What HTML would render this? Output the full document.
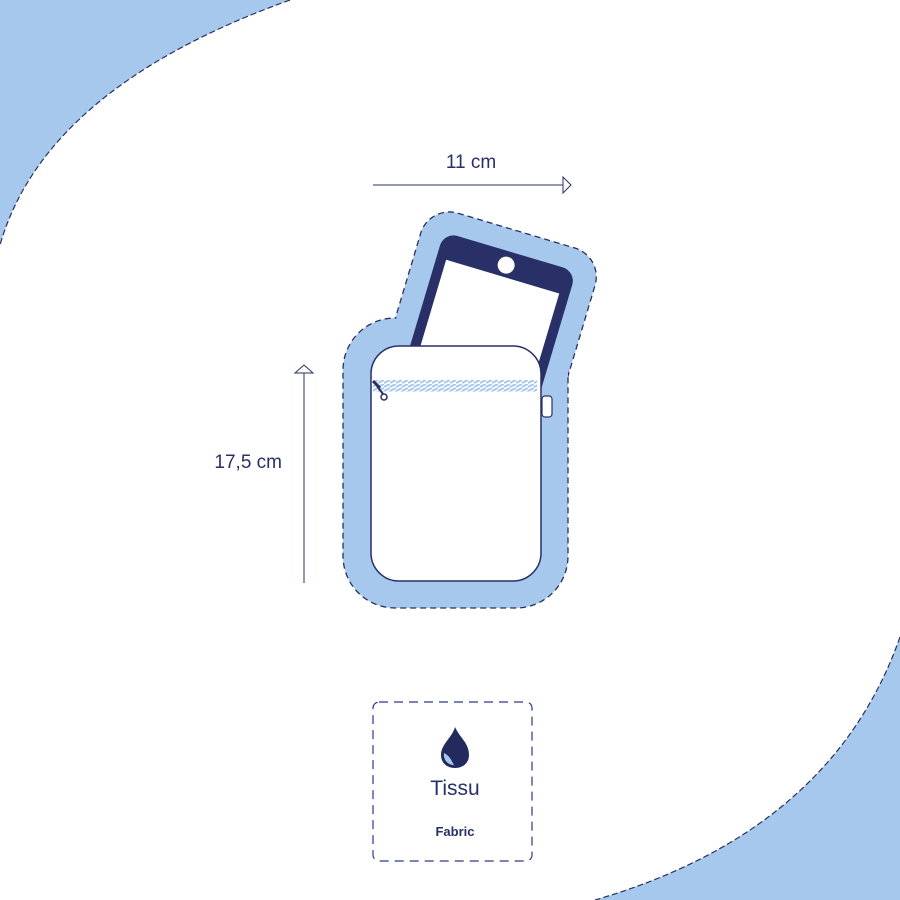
<!DOCTYPE html>
<html><head><style>body{margin:0;background:#fff}svg{display:block}</style></head><body>
<svg width="900" height="900" viewBox="0 0 900 900" xmlns="http://www.w3.org/2000/svg" font-family="'Liberation Sans',sans-serif">
<defs>
<pattern id="zip" width="6" height="12" patternUnits="userSpaceOnUse">
<path d="M0,3 L6,0 M0,7 L6,4 M0,11 L6,8" stroke="#a5c8ec" stroke-width="2"/>
</pattern>
</defs>
<path d="M0,0 L290,0 Q45,88 0,245 Z" fill="#a5c8ec"/>
<path d="M290,0 Q45,88 0,245" fill="none" stroke="#2a3060" stroke-width="1.2" stroke-dasharray="6 3"/>
<path d="M900,637 Q832,831 595,900 L900,900 Z" fill="#a5c8ec"/>
<path d="M900,637 Q832,831 595,900" fill="none" stroke="#2a3060" stroke-width="1.2" stroke-dasharray="6 3"/>

<g stroke="#2a3060" stroke-width="1.3" stroke-dasharray="6 4" fill="#a5c8ec">
<rect x="-22" y="-22" width="182" height="244" rx="30" transform="translate(444,232) rotate(16.6)"/>
<rect x="343" y="318" width="225" height="290" rx="52"/>
</g>
<g fill="#a5c8ec">
<rect x="-21" y="-21" width="180" height="242" rx="29" transform="translate(444,232) rotate(16.6)"/>
<rect x="344" y="319" width="223" height="288" rx="51"/>
</g>
<g transform="translate(444,232) rotate(16.6)">
<rect x="0" y="0" width="138" height="200" rx="14" fill="#283067"/>
<rect x="10" y="26" width="118" height="170" fill="#fff"/>
<circle cx="69" cy="14" r="8.5" fill="#fff"/>
</g>
<rect x="371" y="346" width="170" height="235" rx="28" fill="#fff" stroke="#283067" stroke-width="1.5"/>
<rect x="373" y="380" width="164" height="12" fill="url(#zip)"/>
<path d="M373,381 L380,388" stroke="#283067" stroke-width="3"/>
<circle cx="384" cy="397" r="3" fill="#fff" stroke="#283067" stroke-width="1.5"/>
<path d="M377,386 L383,394" stroke="#283067" stroke-width="2"/>
<rect x="542" y="396" width="10" height="21" rx="3" fill="#fff" stroke="#283067" stroke-width="1.2"/>

<line x1="373" y1="185" x2="563" y2="185" stroke="#283067" stroke-width="1"/>
<path d="M563,177 L571,185 L563,193 Z" fill="#fff" stroke="#283067" stroke-width="1"/>
<text x="471" y="168" font-size="19" fill="#283067" text-anchor="middle">11 cm</text>
<line x1="304" y1="583" x2="304" y2="373" stroke="#283067" stroke-width="1"/>
<path d="M295,373 L304,365 L313,373 Z" fill="#fff" stroke="#283067" stroke-width="1"/>
<text x="282" y="468" font-size="19" fill="#283067" text-anchor="end">17,5 cm</text>

<rect x="373" y="702" width="159" height="159" rx="6" fill="none" stroke="#2a3a8a" stroke-width="1.2" stroke-dasharray="9 6"/>
<path d="M455,727 C452,738 441,744 441,755 C441,763 447,768 455,768 C463,768 469,763 469,755 C469,743 460,738 455,727 Z" fill="#232a5e"/>
<path d="M444,753 C443,760 448,765 454,765 C451,760 450,756 444,753 Z" fill="#a5c8ec"/>
<text x="455" y="795" font-size="21" fill="#283067" text-anchor="middle">Tissu</text>
<text x="455" y="836" font-size="13" font-weight="bold" fill="#283067" text-anchor="middle">Fabric</text>
</svg>
</body></html>
